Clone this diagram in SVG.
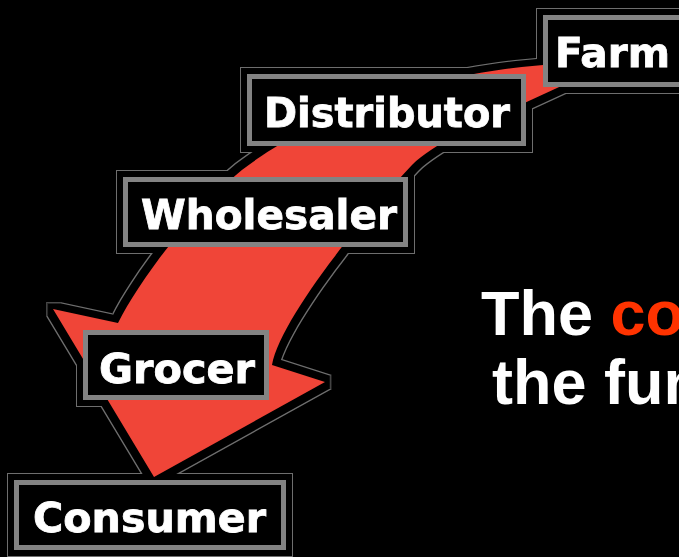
<svg xmlns="http://www.w3.org/2000/svg" width="679" height="557" viewBox="0 0 679 557">
<defs>
<style>
.box{fill:#000;stroke:#838383;stroke-width:5}
.lbl{font-family:"DejaVu Sans","Liberation Sans",sans-serif;font-weight:bold;font-size:40px;fill:#fff;stroke:#fff;stroke-width:0.8}
.cap{font-family:"Liberation Sans",Arial,sans-serif;font-weight:bold;font-size:63px;fill:#fff}
.arrow{fill:#f04438}
</style>
<filter id="halo" x="-5%" y="-5%" width="115%" height="110%">
<feMorphology in="SourceAlpha" operator="dilate" radius="7" result="d1"/>
<feMorphology in="SourceAlpha" operator="dilate" radius="6" result="d2"/>
<feComposite in="d1" in2="d2" operator="out" result="ring"/>
<feFlood flood-color="#6e6e6e"/>
<feComposite in2="ring" operator="in" result="gray"/>
<feMerge><feMergeNode in="gray"/><feMergeNode in="SourceGraphic"/></feMerge>
</filter>
</defs>
<rect width="679" height="557" fill="#000"/>
<g id="diagram" filter="url(#halo)">
<g id="connectors">
<path id="flow-arrow" class="arrow" d="M612 62 L543 65 C393 77 284 135 236 175 C188 215 138 283 118 323 L53 309 L154 477 L325 382 L272 365 C280 320 360 220 412 165 C440 138 500 115 557 88 Z"/>
</g>
<g id="node-farm">
<rect class="box" x="545.5" y="17.5" width="160" height="67"/>
<text class="lbl" x="555" y="67" textLength="115" lengthAdjust="spacingAndGlyphs">Farm</text>
</g>
<g id="node-distributor">
<rect class="box" x="249.5" y="76.5" width="274" height="67"/>
<text class="lbl" x="264" y="127" textLength="246" lengthAdjust="spacingAndGlyphs">Distributor</text>
</g>
<g id="node-wholesaler">
<rect class="box" x="125.5" y="179.5" width="280" height="65"/>
<text class="lbl" x="141" y="229" textLength="256" lengthAdjust="spacingAndGlyphs">Wholesaler</text>
</g>
<g id="node-grocer">
<rect class="box" x="85.5" y="332.5" width="181" height="65"/>
<text class="lbl" x="99" y="383" textLength="156" lengthAdjust="spacingAndGlyphs">Grocer</text>
</g>
<g id="node-consumer">
<rect class="box" x="16.5" y="482.5" width="267" height="65"/>
<text class="lbl" x="33" y="532" textLength="233" lengthAdjust="spacingAndGlyphs">Consumer</text>
</g>
</g>
<g id="caption">
<text class="cap" x="481" y="335">The <tspan fill="#ff3300">co</tspan></text>
<text class="cap" x="492" y="404">the fun</text>
</g>
</svg>
